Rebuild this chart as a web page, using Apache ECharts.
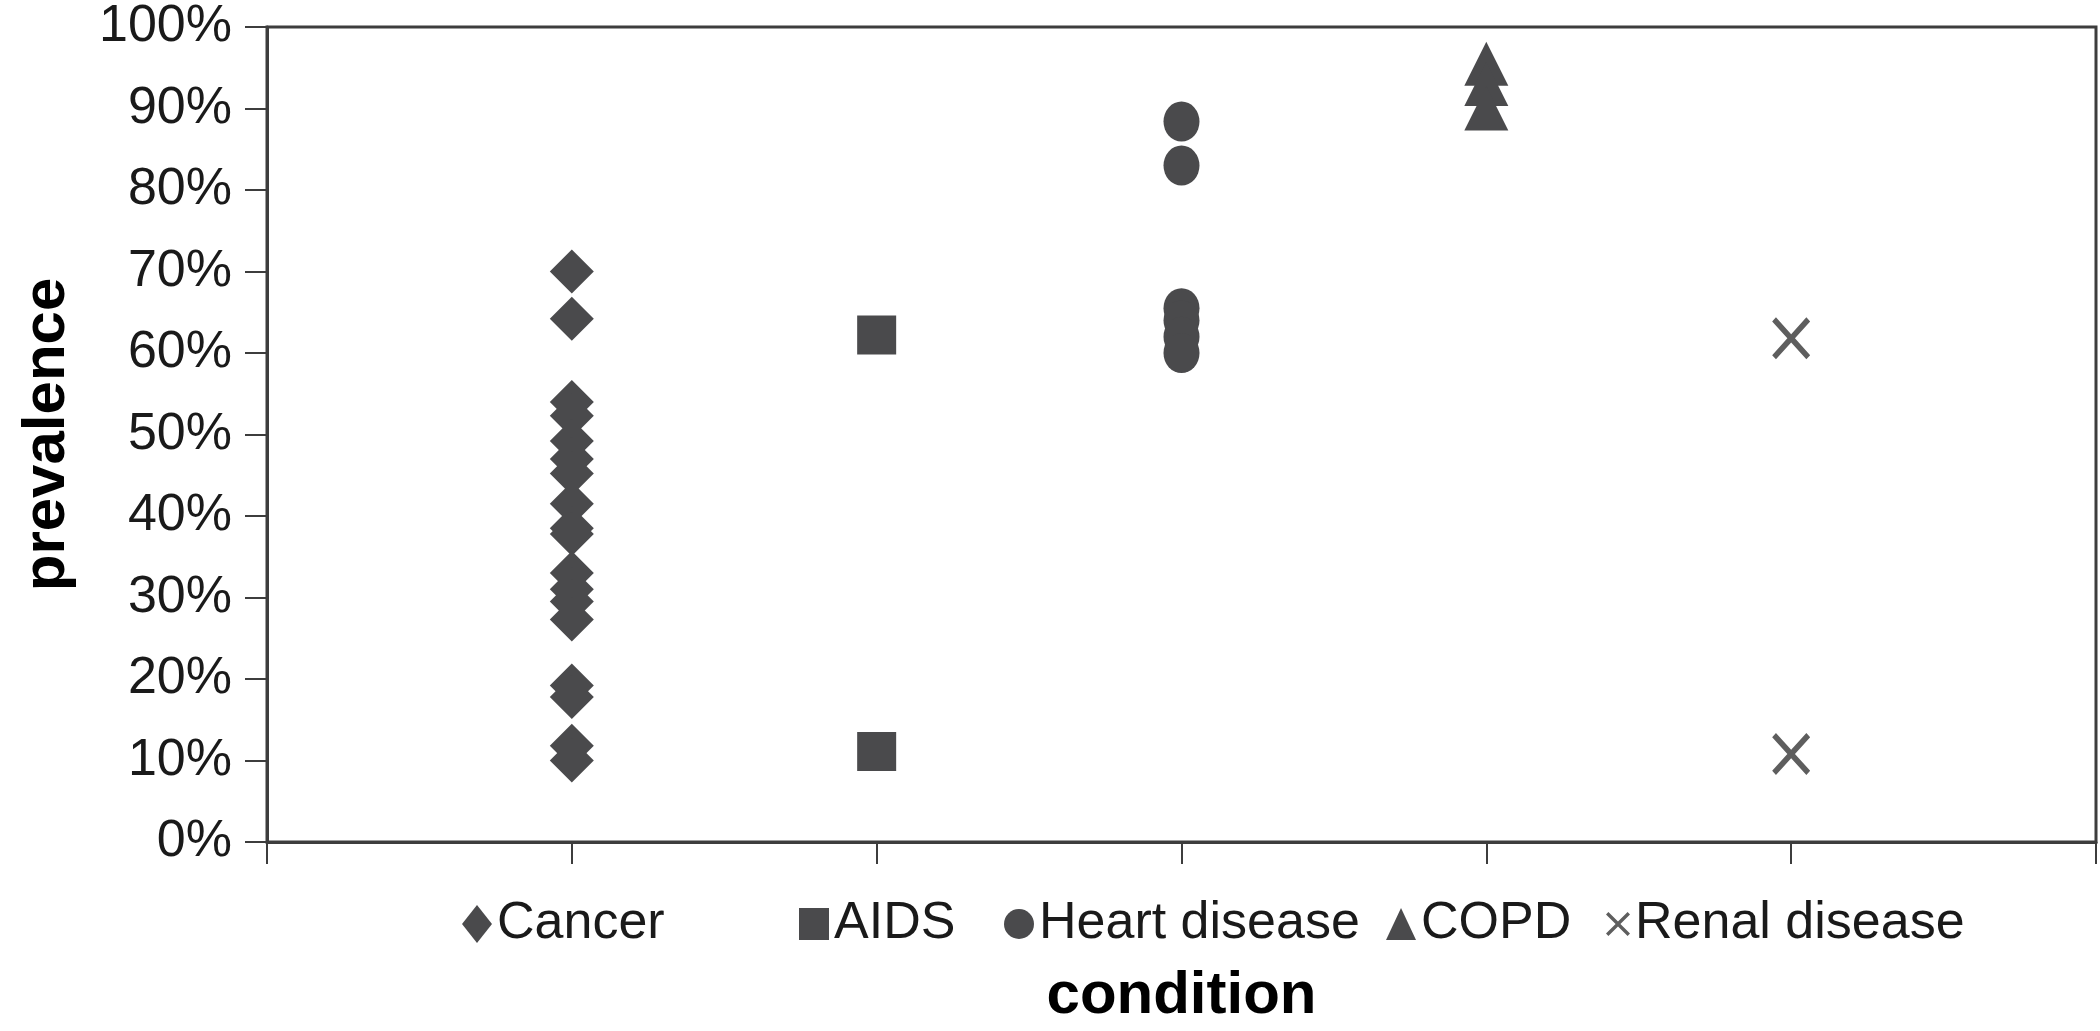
<!DOCTYPE html>
<html>
<head>
<meta charset="utf-8">
<script src="https://cdn.jsdelivr.net/npm/echarts@6/dist/echarts.min.js"></script>
<style>
html,body{margin:0;padding:0;background:#fff;}
#chart{width:2100px;height:1031px;}
</style>
</head>
<body>
<div id="chart"></div>
<script>
// Categories (position on the x axis = index + 1)
const categories = ['Cancer', 'AIDS', 'Heart disease', 'COPD', 'Renal disease'];
// Prevalence values (%) per condition
const cancerValues = [70, 64.2, 54, 52.3, 49.2, 47, 45.2, 41.5, 38.5, 37.8, 33, 31, 29.5, 27.3, 19.2, 17.8, 11.8, 10];
const aidsValues = [62.2, 11.1];
const heartValues = [88.4, 83, 65.5, 64, 62, 60];
const copdValues = [95.5, 93, 90];
const renalValues = [61.8, 10.8];
// Y axis tick labels: 0%..100% every 10
const yTickStep = 10;

const valueSets = [cancerValues, aidsValues, heartValues, copdValues, renalValues];
const xPath = 'path://M0,1 L1,0 L5,4 L9,0 L10,1 L6,5 L10,9 L9,10 L5,6 L1,10 L0,9 L4,5 Z';
const symbols = ['diamond', 'rect', 'circle', 'triangle', xPath];
const symbolSizes = [[44, 44], [39, 39], [36, 40], [44, 44], [38, 42]];
const colors = ['#4a4a4c', '#4a4a4c', '#4a4a4c', '#4a4a4c', '#5e5e5e'];
const legendLeft = [462, 799, 1004, 1386, 1606];
const legendIcon = [[30, 38], [30, 32], [30, 34], [30, 32], [24, 26]];

const series = categories.map((name, i) => ({
  name: name,
  type: 'scatter',
  symbol: symbols[i],
  symbolSize: symbolSizes[i],
  itemStyle: { color: colors[i], opacity: 1 },
  data: valueSets[i].map(v => [i + 1, v])
}));

const legends = categories.map((name, i) => ({
  data: [{ name: name, icon: symbols[i] }],
  left: legendLeft[i],
  top: 898,
  padding: 0,
  itemWidth: legendIcon[i][0],
  itemHeight: legendIcon[i][1],
  selectedMode: false,
  textStyle: { fontFamily: 'Liberation Sans, Arial, sans-serif', fontSize: 52, color: '#1a1a1a', padding: [0, 0, 0, 0] }
}));

const chart = echarts.init(document.getElementById('chart'), null, { renderer: 'canvas' });
chart.setOption({
  animation: false,
  backgroundColor: '#fff',
  legend: legends,
  grid: {
    left: 267, right: 4, top: 27, bottom: 177,
    show: true, borderColor: '#3d3d3d', borderWidth: 3, backgroundColor: 'transparent'
  },
  xAxis: {
    type: 'value', min: 0, max: 6, interval: 1,
    name: 'condition', nameLocation: 'middle', nameGap: 124,
    nameTextStyle: { fontFamily: 'Liberation Sans, Arial, sans-serif', fontSize: 60, fontWeight: 'bold', color: '#000' },
    axisLine: { show: true, lineStyle: { color: '#3d3d3d', width: 3 } },
    axisTick: { show: true, inside: false, length: 22, lineStyle: { color: '#3d3d3d', width: 2 } },
    axisLabel: { show: false },
    splitLine: { show: false }
  },
  yAxis: {
    type: 'value', min: 0, max: 100, interval: yTickStep,
    name: 'prevalence', nameLocation: 'middle', nameRotate: 90, nameGap: 190,
    nameTextStyle: { fontFamily: 'Liberation Sans, Arial, sans-serif', fontSize: 60, fontWeight: 'bold', color: '#000' },
    axisLine: { show: true, lineStyle: { color: '#3d3d3d', width: 3 } },
    axisTick: { show: true, inside: false, length: 22, lineStyle: { color: '#3d3d3d', width: 2 } },
    axisLabel: { formatter: '{value}%', margin: 35, fontFamily: 'Liberation Sans, Arial, sans-serif', fontSize: 52, color: '#1a1a1a' },
    splitLine: { show: false }
  },
  series: series
});
</script>
</body>
</html>
